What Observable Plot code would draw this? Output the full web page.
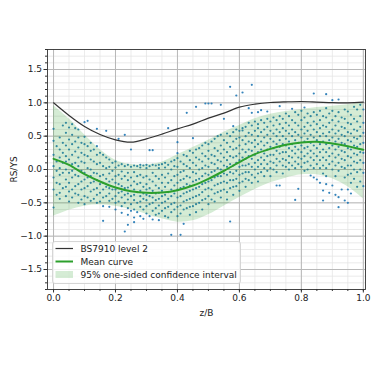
<!DOCTYPE html>
<html>
<head>
<meta charset="utf-8">
<script src="https://cdn.jsdelivr.net/npm/d3@7"></script>
<script src="https://cdn.jsdelivr.net/npm/@observablehq/plot@0.6"></script>
<style>
  html, body { margin: 0; padding: 0; background: white; }
  svg text { font-family: 'DejaVu Sans', sans-serif; }
</style>
</head>
<body>
<div id="chart"></div>
<script>
// ---- Data ----
const curveX   = [0, 0.05, 0.1, 0.15, 0.2, 0.25, 0.3, 0.35, 0.4, 0.45, 0.5, 0.55, 0.6, 0.65, 0.7, 0.75, 0.8, 0.85, 0.9, 0.95, 1.0];
const bs7910   = [1.0, 0.81, 0.645, 0.525, 0.445, 0.41, 0.46, 0.53, 0.61, 0.68, 0.77, 0.845, 0.935, 0.98, 1.005, 1.015, 1.02, 1.012, 1.002, 1.0, 1.01];
const meanCurve= [0.16, 0.07, -0.07, -0.18, -0.27, -0.325, -0.35, -0.345, -0.31, -0.24, -0.14, -0.02, 0.11, 0.23, 0.31, 0.37, 0.405, 0.415, 0.39, 0.35, 0.295];
const bandHi   = [0.96, 0.76, 0.52, 0.3, 0.14, 0.075, 0.07, 0.11, 0.22, 0.33, 0.44, 0.56, 0.66, 0.76, 0.83, 0.87, 0.9, 0.93, 0.95, 0.97, 1.0];
const bandLo   = [-0.7, -0.61, -0.55, -0.53, -0.55, -0.6, -0.67, -0.74, -0.79, -0.77, -0.68, -0.55, -0.42, -0.3, -0.2, -0.13, -0.08, -0.08, -0.14, -0.26, -0.44];

const scatterX = [0.00,0.01,0.02,0.03,0.04,0.05,0.06,0.07,0.08,0.09,0.10,0.11,0.12,0.13,0.14,0.15,0.16,0.17,0.18,0.19,0.20,0.21,0.22,0.23,0.24,0.25,0.26,0.27,0.28,0.29,0.30,0.31,0.32,0.33,0.34,0.35,0.36,0.37,0.38,0.39,0.40,0.41,0.42,0.43,0.44,0.45,0.46,0.47,0.48,0.49,0.50,0.51,0.52,0.53,0.54,0.55,0.56,0.57,0.58,0.59,0.60,0.61,0.62,0.63,0.64,0.65,0.66,0.67,0.68,0.69,0.70,0.71,0.72,0.73,0.74,0.75,0.76,0.77,0.78,0.79,0.80,0.81,0.82,0.83,0.84,0.85,0.86,0.87,0.88,0.89,0.90,0.91,0.92,0.93,0.94,0.95,0.96,0.97,0.98,0.99,1.00];
const scatterY = [
  [0.61, 0.43, 0.22, 0.05, -0.12, -0.3, -0.57],
  [0.35, 0.12, -0.02, -0.2, -0.38],
  [0.48, 0.3, 0.18, 0.02, -0.08, -0.22, -0.35, -0.44],
  [0.66, 0.4, 0.25, 0.1, -0.05, -0.28],
  [0.7, 0.55, 0.36, 0.2, 0.12, 0.0, -0.15, -0.26, -0.4],
  [0.63, 0.45, 0.3, 0.15, -0.05, -0.2, -0.33, -0.48],
  [0.68, 0.52, 0.38, 0.22, 0.08, -0.02, -0.12, -0.3, -0.42],
  [0.62, 0.42, 0.27, 0.1, -0.08, -0.25, -0.36],
  [0.6, 0.48, 0.33, 0.18, 0.05, -0.1, -0.22, -0.38, -0.5],
  [0.4, 0.25, 0.12, -0.02, -0.18, -0.3, -0.45],
  [0.71, 0.49, 0.38, 0.22, 0.1, -0.05, -0.15, -0.28, -0.4, -0.52],
  [0.73, 0.35, 0.2, 0.02, -0.12, -0.25, -0.42],
  [0.4, 0.28, 0.15, 0.0, -0.1, -0.2, -0.33, -0.47],
  [0.3, 0.12, -0.05, -0.18, -0.3, -0.44],
  [0.61, 0.35, 0.22, 0.08, -0.06, -0.16, -0.28, -0.38, -0.5],
  [0.25, 0.1, -0.1, -0.22, -0.35, -0.48],
  [0.22, 0.05, -0.08, -0.2, -0.3, -0.42, -0.55, -0.77],
  [0.58, 0.18, 0.02, -0.14, -0.26, -0.4],
  [0.15, 0.04, -0.06, -0.18, -0.28, -0.36, -0.47, -0.56],
  [0.1, -0.02, -0.15, -0.3, -0.44],
  [0.12, 0.03, -0.1, -0.2, -0.3, -0.4, -0.5, -0.6],
  [0.46, 0.06, -0.08, -0.22, -0.35, -0.48],
  [0.08, -0.03, -0.14, -0.25, -0.33, -0.42, -0.55, -0.65],
  [0.52, 0.05, -0.1, -0.28, -0.38, -0.5, -0.93],
  [0.07, -0.05, -0.16, -0.27, -0.36, -0.45, -0.58, -0.68, -0.83],
  [0.3, 0.04, -0.12, -0.24, -0.4, -0.52, -0.62],
  [0.06, -0.04, -0.18, -0.3, -0.38, -0.46, -0.6, -0.72, -0.79],
  [0.05, -0.1, -0.22, -0.34, -0.5, -0.64],
  [0.07, 0.03, -0.08, -0.2, -0.32, -0.4, -0.48, -0.56, -0.7],
  [0.06, -0.12, -0.26, -0.36, -0.44, -0.6, -0.74],
  [0.07, 0.02, -0.1, -0.22, -0.3, -0.38, -0.46, -0.55, -0.66],
  [0.29, 0.05, -0.15, -0.28, -0.4, -0.52, -0.7],
  [0.29, 0.07, -0.05, -0.18, -0.32, -0.42, -0.5, -0.62, -0.75],
  [0.06, -0.1, -0.24, -0.36, -0.46, -0.58, -0.68],
  [0.07, 0.02, -0.14, -0.28, -0.35, -0.44, -0.54, -0.66, -0.76],
  [0.08, -0.08, -0.2, -0.32, -0.4, -0.5, -0.62],
  [0.1, 0.03, -0.12, -0.26, -0.38, -0.48, -0.58, -0.7],
  [0.62, 0.07, -0.06, -0.2, -0.34, -0.44, -0.56, -0.72],
  [0.12, 0.0, -0.16, -0.3, -0.4, -0.52, -0.64, -0.98],
  [0.14, 0.05, -0.1, -0.24, -0.36, -0.5, -0.6],
  [0.41, 0.245, 0.17, 0.04, -0.08, -0.2, -0.3, -0.42, -0.56, -0.7],
  [0.12, -0.04, -0.16, -0.28, -0.4, -0.54, -0.66, -0.98],
  [0.22, 0.08, -0.02, -0.14, -0.26, -0.36, -0.48, -0.6, -0.815],
  [0.85, 0.2, 0.05, -0.1, -0.22, -0.34, -0.46, -0.58],
  [0.28, 0.14, 0.02, -0.12, -0.24, -0.32, -0.44, -0.56, -0.68],
  [0.47, 0.25, 0.1, -0.04, -0.18, -0.3, -0.42, -0.55],
  [0.94, 0.3, 0.18, 0.06, -0.06, -0.16, -0.28, -0.4, -0.52, -0.64],
  [0.32, 0.15, 0.0, -0.14, -0.26, -0.38, -0.5],
  [0.36, 0.24, 0.12, 0.02, -0.1, -0.22, -0.34, -0.46, -0.6],
  [0.99, 0.4, 0.2, 0.06, -0.06, -0.2, -0.3, -0.44],
  [0.99, 0.38, 0.28, 0.16, 0.04, -0.08, -0.18, -0.28, -0.4, -0.52],
  [0.99, 0.42, 0.22, 0.1, -0.04, -0.16, -0.3, -0.45],
  [0.46, 0.32, 0.2, 0.08, -0.02, -0.12, -0.24, -0.36, -0.48],
  [0.5, 0.28, 0.14, 0.02, -0.1, -0.22, -0.34],
  [0.97, 0.52, 0.36, 0.24, 0.12, 0.0, -0.1, -0.2, -0.32, -0.42],
  [0.76, 0.44, 0.3, 0.18, 0.06, -0.06, -0.18, -0.3],
  [0.54, 0.4, 0.26, 0.14, 0.04, -0.08, -0.2, -0.34, -0.45],
  [1.24, 0.5, 0.34, 0.2, 0.08, -0.04, -0.16, -0.28, -0.78],
  [0.65, 0.56, 0.42, 0.3, 0.18, 0.06, -0.06, -0.16, -0.26, -0.38],
  [1.11, 0.6, 0.46, 0.32, 0.2, 0.1, -0.02, -0.14, -0.25],
  [0.58, 0.48, 0.36, 0.24, 0.14, 0.04, -0.08, -0.2, -0.32],
  [1.155, 0.585, 0.62, 0.44, 0.3, 0.18, 0.06, -0.06, -0.18],
  [0.64, 0.5, 0.38, 0.26, 0.16, 0.06, -0.04, -0.14, -0.26],
  [0.92, 0.7, 0.55, 0.42, 0.3, 0.2, 0.08, -0.04, -0.16],
  [1.27, 0.85, 0.66, 0.52, 0.4, 0.28, 0.16, 0.04, -0.08, -0.2],
  [0.72, 0.58, 0.44, 0.34, 0.22, 0.1, 0.0, -0.12],
  [0.86, 0.68, 0.62, 0.5, 0.38, 0.26, 0.14, 0.04, -0.06, -0.18],
  [0.89, 0.74, 0.56, 0.42, 0.3, 0.18, 0.08, -0.04],
  [0.7, 0.6, 0.48, 0.36, 0.24, 0.14, 0.02, -0.1],
  [0.87, 0.76, 0.64, 0.52, 0.4, 0.3, 0.2, 0.08, -0.02],
  [0.72, 0.58, 0.46, 0.34, 0.22, 0.12, 0.02, -0.1],
  [0.78, 0.66, 0.54, 0.42, 0.32, 0.22, 0.1, 0.0],
  [0.74, 0.6, 0.5, 0.38, 0.28, 0.16, 0.06, -0.04, -0.24],
  [0.95, 0.8, 0.68, 0.56, 0.44, 0.34, 0.24, 0.12, -0.24],
  [0.76, 0.62, 0.5, 0.38, 0.26, 0.16, 0.06, -0.06],
  [0.84, 0.7, 0.58, 0.46, 0.36, 0.26, 0.14, 0.04],
  [0.8, 0.66, 0.54, 0.42, 0.32, 0.2, 0.1, 0.0],
  [0.91, 0.74, 0.6, 0.5, 0.38, 0.28, 0.18, 0.06],
  [0.86, 0.7, 0.56, 0.44, 0.34, 0.24, 0.12, 0.02, -0.456],
  [0.82, 0.66, 0.52, 0.4, 0.3, 0.18, 0.08, -0.29],
  [0.88, 0.74, 0.6, 0.48, 0.36, 0.26, 0.16, 0.04],
  [0.93, 0.78, 0.64, 0.54, 0.42, 0.32, 0.2, 0.1, -0.02],
  [0.84, 0.7, 0.58, 0.46, 0.34, 0.24, 0.12, 0.0],
  [0.8, 0.66, 0.52, 0.4, 0.28, 0.18, 0.06, -0.09],
  [1.14, 0.86, 0.72, 0.6, 0.48, 0.36, 0.24, 0.14, 0.02, -0.12],
  [0.82, 0.68, 0.56, 0.44, 0.32, 0.2, 0.08, -0.15],
  [0.88, 0.74, 0.62, 0.5, 0.38, 0.26, 0.14, 0.02, -0.2],
  [0.8, 0.66, 0.54, 0.42, 0.3, 0.18, 0.06, -0.06, -0.315, -0.465],
  [1.13, 0.92, 0.78, 0.64, 0.5, 0.38, 0.26, 0.14, 0.02, -0.1, -0.22],
  [0.84, 0.7, 0.56, 0.44, 0.32, 0.2, 0.08, -0.35],
  [1.04, 0.88, 0.74, 0.6, 0.48, 0.36, 0.24, 0.12, 0.0, -0.24],
  [0.8, 0.66, 0.54, 0.42, 0.3, 0.18, 0.06, -0.1, -0.38],
  [1.05, 0.86, 0.72, 0.58, 0.46, 0.34, 0.22, 0.1, -0.02, -0.415, -0.565],
  [0.78, 0.64, 0.52, 0.4, 0.28, 0.16, 0.04, -0.3],
  [0.9, 0.76, 0.62, 0.5, 0.38, 0.26, 0.14, 0.02, -0.12, -0.465],
  [0.87, 0.7, 0.56, 0.44, 0.32, 0.2, 0.06, -0.08, -0.3, -0.5],
  [0.82, 0.68, 0.54, 0.42, 0.3, 0.18, 0.06, -0.06, -0.2, -0.36],
  [0.94, 0.76, 0.6, 0.48, 0.36, 0.24, 0.12, 0.0, -0.14],
  [0.9, 0.72, 0.58, 0.46, 0.34, 0.22, 0.1, -0.04, -0.26],
  [0.97, 0.8, 0.64, 0.5, 0.38, 0.26, 0.14, 0.0, -0.18],
  [0.9, 0.7, 0.55, 0.4, 0.25, 0.1, -0.05, -0.25]
];

const xMajorTicks = [0, 0.2, 0.4, 0.6, 0.8, 1.0];
const xMinorTicks = d3.range(21).map(i => i / 20);
const yMajorTicks = [-1.5, -1.0, -0.5, 0.0, 0.5, 1.0, 1.5];
const yMinorTicks = d3.range(-18, 19).map(i => i / 10);
const legendLabels = ["BS7910 level 2", "Mean curve", "95% one-sided confidence interval"];

// ---- Tables built from the arrays ----
const curves = curveX.map((x, i) => ({x, bs: bs7910[i], mean: meanCurve[i], hi: bandHi[i], lo: bandLo[i]}));
const points = scatterX.flatMap((x, i) => scatterY[i].map(y => ({x, y})));

const fmt = d3.format(".1f");
const axisColor = "#333";

const chart = Plot.plot({
  width: 376,
  height: 367,
  marginLeft: 47,
  marginRight: 11,
  marginTop: 49,
  marginBottom: 78,
  style: {fontFamily: "'DejaVu Sans', sans-serif", fontSize: "9px", background: "white", color: "#222"},
  x: {domain: [-0.0195, 1.007]},
  y: {domain: [-1.8, 1.8]},
  marks: [
    Plot.gridX(xMinorTicks, {stroke: "#e6e6e6", strokeOpacity: 1, strokeWidth: 0.8}),
    Plot.gridY(yMinorTicks, {stroke: "#e6e6e6", strokeOpacity: 1, strokeWidth: 0.8}),
    Plot.gridX(xMajorTicks, {stroke: "#b8b8b8", strokeOpacity: 1, strokeWidth: 1}),
    Plot.gridY(yMajorTicks, {stroke: "#b8b8b8", strokeOpacity: 1, strokeWidth: 1}),
    Plot.dot(points, {x: "x", y: "y", r: 1.1, fill: "#1f77b4", fillOpacity: 0.9, stroke: null}),
    Plot.areaY(curves, {x: "x", y1: "lo", y2: "hi", fill: "#2ca02c", fillOpacity: 0.2, curve: "catmull-rom"}),
    Plot.line(curves, {x: "x", y: "bs", stroke: "#333", strokeWidth: 1.2, curve: "catmull-rom"}),
    Plot.line(curves, {x: "x", y: "mean", stroke: "#2ca02c", strokeWidth: 2, curve: "catmull-rom"}),
    Plot.axisX(xMinorTicks, {tickSize: 2, tickFormat: () => "", label: null, stroke: axisColor}),
    Plot.axisX(xMajorTicks, {tickSize: 3.5, tickPadding: 2, tickFormat: fmt, stroke: axisColor,
      label: "z/B", labelAnchor: "center", labelArrow: "none", labelOffset: 26}),
    Plot.axisY(yMinorTicks, {tickSize: 2, tickFormat: () => "", label: null, stroke: axisColor}),
    Plot.axisY(yMajorTicks, {tickSize: 3.5, tickPadding: 2, tickFormat: fmt, stroke: axisColor,
      label: "RS/YS", labelAnchor: "center", labelArrow: "none", labelOffset: 37}),
    Plot.frame({stroke: axisColor, strokeWidth: 0.9})
  ]
});

// ---- Legend (matplotlib-style box, lower left inside the axes) ----
const svg = d3.select(chart);
const lg = svg.append("g")
  .attr("text-anchor", "start")
  .attr("fill", "#222");
lg.append("rect")
  .attr("x", 52.5).attr("y", 241.5).attr("width", 188).attr("height", 42)
  .attr("rx", 2.5)
  .attr("fill", "white").attr("fill-opacity", 0.8)
  .attr("stroke", "#cccccc").attr("stroke-width", 0.8);
const rowY = [248.5, 261.5, 274.5];
lg.append("line").attr("x1", 55.5).attr("x2", 73).attr("y1", rowY[0]).attr("y2", rowY[0])
  .attr("stroke", "#333").attr("stroke-width", 1.2);
lg.append("line").attr("x1", 55.5).attr("x2", 73).attr("y1", rowY[1]).attr("y2", rowY[1])
  .attr("stroke", "#2ca02c").attr("stroke-width", 2);
lg.append("rect").attr("x", 55.5).attr("y", rowY[2] - 3.5).attr("width", 17.5).attr("height", 7)
  .attr("fill", "#2ca02c").attr("fill-opacity", 0.2);
legendLabels.forEach((t, i) => {
  lg.append("text").attr("x", 80.5).attr("y", rowY[i]).attr("dy", "0.35em")
    .style("font-family", "'DejaVu Sans', sans-serif")
    .style("font-size", "9px")
    .attr("text-anchor", "start").text(t);
});

document.getElementById("chart").appendChild(chart);
</script>
</body>
</html>
